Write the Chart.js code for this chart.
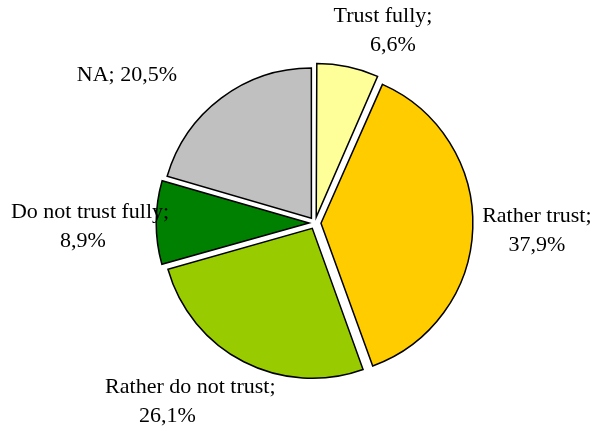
<!DOCTYPE html>
<html>
<head>
<meta charset="utf-8">
<script src="https://cdn.jsdelivr.net/npm/chart.js@4/dist/chart.umd.min.js"></script>
<style>
  html, body { margin: 0; padding: 0; background: #fff; }
  #wrap { width: 594px; height: 432px; }
</style>
</head>
<body>
<div id="wrap"><canvas id="chart" width="594" height="432"></canvas></div>
<script>
const categories = ['Trust fully', 'Rather trust', 'Rather do not trust', 'Do not trust fully', 'NA'];
const shares = [6.6, 37.9, 26.1, 8.9, 20.5];
const sliceColors = ['#FFFF99', '#FFCC00', '#99CC00', '#008000', '#C0C0C0'];

// where each label sits: distance from the pie centre and a turn away from the slice middle (deg)
const labelDist = [204, 222, 218, 225, 239];
const labelTurn = [7.6, 0, 7.7, -1, -15];
const labelSingleLine = [false, false, false, false, true];
// horizontal nudge of the percentage line under the name
const valueShift = [10, 0, -23, -7, 0];

const fmt = v => v.toFixed(1).replace('.', ',') + '%';

const pieLabels = {
    id: 'pieLabels',
    afterDatasetsDraw(chart) {
        const ctx = chart.ctx;
        const arcs = chart.getDatasetMeta(0).data;
        ctx.save();
        ctx.font = '22px "Liberation Serif", "Times New Roman", serif';
        ctx.fillStyle = '#000';
        ctx.textAlign = 'center';
        ctx.textBaseline = 'middle';
        arcs.forEach((arc, i) => {
            const p = arc.getProps(['x', 'y', 'startAngle', 'endAngle'], true);
            const a = (p.startAngle + p.endAngle) / 2 + labelTurn[i] * Math.PI / 180;
            const lx = p.x + labelDist[i] * Math.cos(a);
            const ly = p.y + labelDist[i] * Math.sin(a);
            const name = categories[i] + ';';
            const val = fmt(shares[i]);
            if (labelSingleLine[i]) {
                ctx.fillText(name + ' ' + val, lx, ly);
            } else {
                ctx.fillText(name, lx, ly - 14.5);
                ctx.fillText(val, lx + valueShift[i], ly + 14.5);
            }
        });
        ctx.restore();
    }
};

new Chart(document.getElementById('chart'), {
    type: 'pie',
    data: {
        labels: categories,
        datasets: [{
            data: shares,
            backgroundColor: sliceColors,
            borderColor: '#000',
            borderWidth: 1.5,
            borderJoinStyle: 'miter',
            offset: 24
        }]
    },
    options: {
        responsive: false,
        animation: false,
        radius: 150,
        layout: { padding: { left: 36, right: 0, top: 14, bottom: 0 } },
        plugins: {
            legend: { display: false },
            tooltip: { enabled: false }
        }
    },
    plugins: [pieLabels]
});
</script>
</body>
</html>
